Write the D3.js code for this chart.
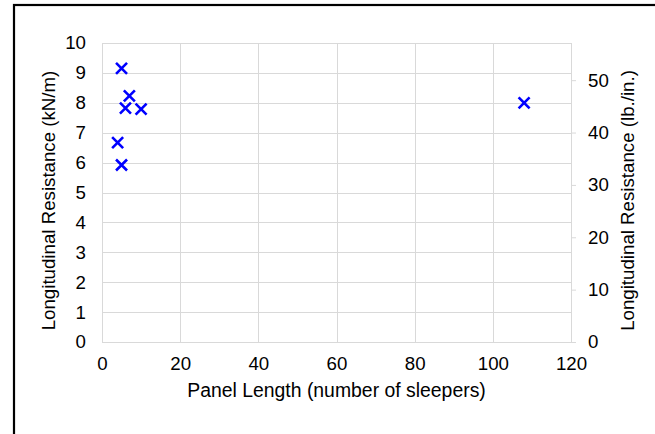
<!DOCTYPE html>
<html><head><meta charset="utf-8">
<script src="https://cdn.jsdelivr.net/npm/d3@7"></script>
<style>body{margin:0;background:#fff}svg{display:block}</style>
</head><body><svg id="c" width="655" height="434"></svg>
<script>
const panelLength = [5, 7, 6, 10, 4, 5, 108];
const resistanceKN = [9.15, 8.23, 7.82, 7.79, 6.67, 5.92, 8.0];
const xTicks = [0, 20, 40, 60, 80, 100, 120];
const yTicks = [0,1,2,3,4,5,6,7,8,9,10];
const y2Ticks = [0,10,20,30,40,50];
const KN_TO_LBIN = 5.71015;

const svg = d3.select("#c");
const font = "Liberation Sans, Arial, sans-serif";
const fs = 18.7;
const L = 102, R = 571, T = 43, B = 342;
const x = d3.scaleLinear().domain([0,120]).range([L,R]);
const y = d3.scaleLinear().domain([0,10]).range([B,T]);
const y2 = d3.scaleLinear().domain([0,10*KN_TO_LBIN]).range([B,T]);

// frame
svg.append("rect").attr("x",14).attr("y",5).attr("width",660).attr("height",460)
  .attr("fill","none").attr("stroke","#000").attr("stroke-width",2.2);

const grid = svg.append("g").attr("stroke","#d9d9d9").attr("stroke-width",1).attr("shape-rendering","crispEdges");
yTicks.forEach(t=>grid.append("line").attr("x1",L).attr("x2",R).attr("y1",Math.round(y(t))+0.5).attr("y2",Math.round(y(t))+0.5));
xTicks.forEach(t=>grid.append("line").attr("x1",Math.round(x(t))+0.5).attr("x2",Math.round(x(t))+0.5).attr("y1",T).attr("y2",B));

// axes
const ax = svg.append("g").attr("transform",`translate(0,${B})`).call(d3.axisBottom(x).tickValues(xTicks).tickSize(0).tickPadding(15));
const ay = svg.append("g").attr("transform",`translate(${L},0)`).call(d3.axisLeft(y).tickValues(yTicks).tickSize(0).tickPadding(16));
const ay2 = svg.append("g").attr("transform",`translate(${R},0)`).call(d3.axisRight(y2).tickValues(y2Ticks).tickSize(5).tickPadding(12));
[ax,ay,ay2].forEach(g=>{
  g.select(".domain").remove();
  g.selectAll("line").attr("stroke","#d9d9d9");
  g.selectAll("text").attr("font-family",font).attr("font-size",fs).attr("fill","#000");
});
ax.selectAll("text").attr("dy","0.71em");

// markers
const s = 5.5;
const m = svg.append("g").attr("stroke","#0000ff").attr("stroke-width",2.6);
panelLength.forEach((v,i)=>{
  const cx = x(v), cy = y(resistanceKN[i]);
  m.append("path").attr("d",`M${cx-s},${cy-s}L${cx+s},${cy+s}M${cx-s},${cy+s}L${cx+s},${cy-s}`);
});

// titles
svg.append("text").attr("x",(L+R)/2).attr("y",397).attr("text-anchor","middle")
  .attr("font-family",font).attr("font-size",19.4).text("Panel Length (number of sleepers)");
svg.append("text").attr("transform",`translate(55,${(T+B)/2+8}) rotate(-90)`).attr("text-anchor","middle")
  .attr("font-family",font).attr("font-size",fs).text("Longitudinal Resistance (kN/m)");
svg.append("text").attr("transform",`translate(634,${(T+B)/2+8}) rotate(-90)`).attr("text-anchor","middle")
  .attr("font-family",font).attr("font-size",fs).text("Longitudinal Resistance (lb./in.)");
</script></body></html>
